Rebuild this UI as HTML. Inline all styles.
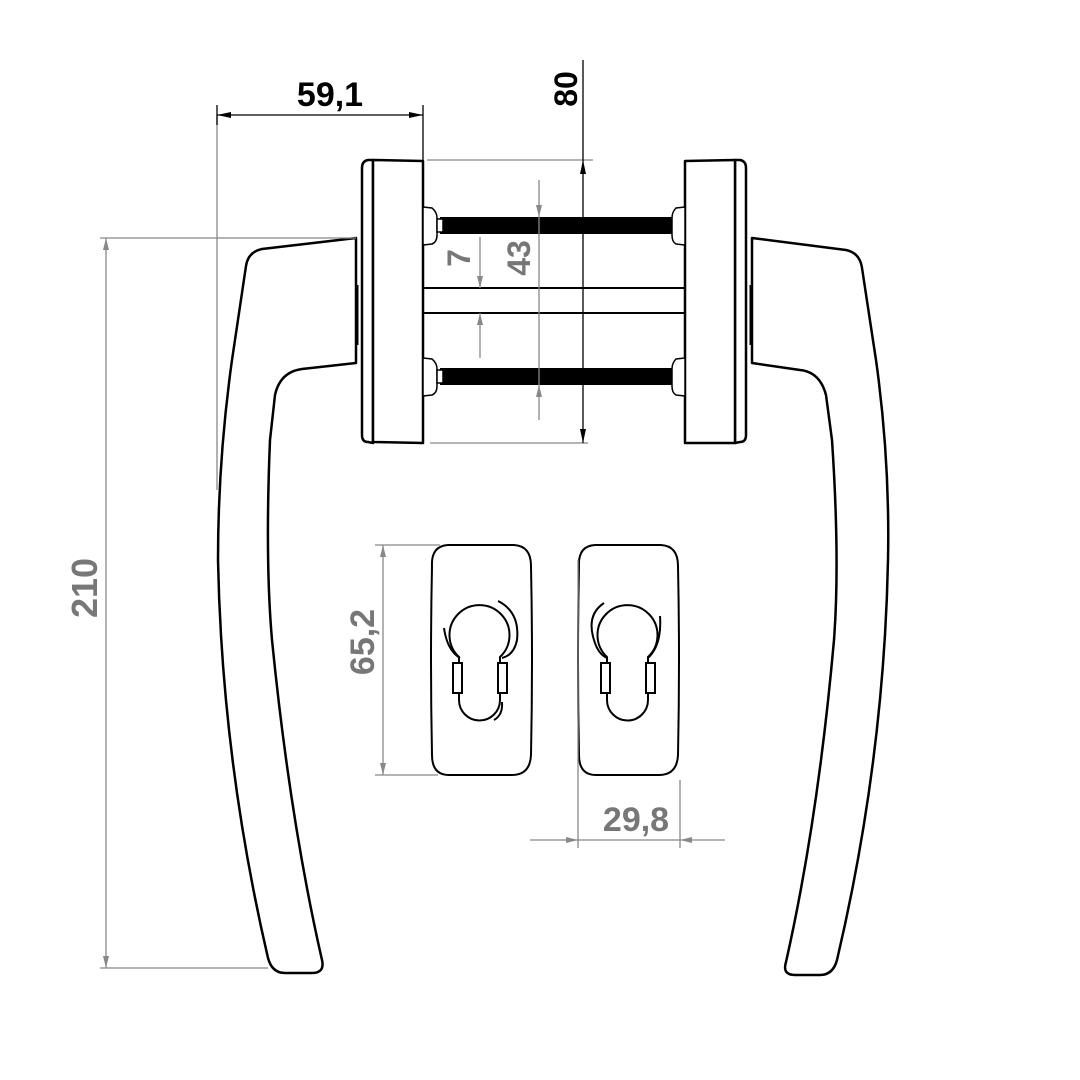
<!DOCTYPE html>
<html><head><style>
html,body{margin:0;padding:0;background:#fff;}
svg{display:block;}
text{font-family:"Liberation Sans","DejaVu Sans",sans-serif;font-weight:bold;}
</style></head><body>
<svg width="1080" height="1080" viewBox="0 0 1080 1080" xmlns="http://www.w3.org/2000/svg">
<defs>
<marker id="ag" viewBox="0 0 12 6" refX="12" refY="3" markerWidth="12" markerHeight="6" markerUnits="userSpaceOnUse" orient="auto"><path d="M0,0 L12,3 L0,6 Z" fill="#888"/></marker>
<marker id="ab" viewBox="0 0 14 6" refX="14" refY="3" markerWidth="14" markerHeight="6" markerUnits="userSpaceOnUse" orient="auto"><path d="M0,0 L14,3 L0,6 Z" fill="#000"/></marker>
</defs>

<!-- handles -->
<g fill="none" stroke="#000" stroke-width="2.5" stroke-linejoin="round">
<path d="M356,238 L262,249 Q248,252 246,266 L232,360 Q218,460 218,560 Q222,760 268,958 Q272,973 285,973 L312,973 Q325,973 322,960 Q290,820 272,640 Q265,560 270,440 L275,395 Q280,372 302,369 L356,363 Z"/>
<path d="M752,238 L846,250 Q860,253 862,268 L876,360 Q890,460 888,560 Q884,760 837,960 Q833,975 820,975 L795,975 Q782,975 786,962 Q818,820 834,640 Q840,560 832,440 L826,395 Q820,372 800,370 L752,363 Z"/>
</g>

<!-- rosettes -->
<g fill="#fff" stroke="#000" stroke-width="2.5" stroke-linejoin="round">
<path d="M373,160 L368,160 Q362,161 362,168 L362,435 Q362,442 368,442 L373,443 Z"/>
<path d="M373,160 L423,161 L423,443 L373,442 Z"/>
<path d="M735,160 L740,160 Q746,161 746,168 L746,435 Q746,442 740,442 L735,443 Z"/>
<path d="M685,161 L735,160 L735,443 L685,443 Z"/>
<path d="M357,285 L357,345" stroke-width="3"/>
<path d="M751,285 L751,345" stroke-width="3"/>
</g>
<!-- spindle -->
<g stroke="#000" stroke-width="2">
<line x1="423" y1="288" x2="685" y2="288"/>
<line x1="423" y1="313" x2="685" y2="313"/>
</g>
<!-- rods -->
<rect x="440" y="217" width="233" height="17" fill="#000"/>
<rect x="440" y="368" width="233" height="17" fill="#000"/>
<g fill="#fff" stroke="#000" stroke-width="1.5">
<path d="M423,207 L432,208 Q437,212 437,218 L437,235 Q437,242 432,244 L423,245 Z"/>
<rect x="437" y="219" width="6" height="13"/>
<path d="M423,358 L432,359 Q437,363 437,369 L437,386 Q437,393 432,395 L423,396 Z"/>
<rect x="437" y="370" width="6" height="13"/>
<path d="M685,207 L676,208 Q672,212 672,218 L672,235 Q672,242 676,244 L685,245 Z"/>
<path d="M685,358 L676,359 Q672,363 672,369 L672,386 Q672,393 676,395 L685,396 Z"/>
</g>

<!-- escutcheons -->
<g fill="none" stroke="#000" stroke-width="2">
<path d="M448,545 L514,545 Q531,546 531,566 Q533,660 531,755 Q530,775 512,775 L449,775 Q432,775 432,755 Q430,660 432,566 Q431,546 448,545 Z"/>
<path d="M595,545 L661,545 Q678,546 678,566 Q680,660 678,755 Q677,775 659,775 L596,775 Q579,775 579,755 Q577,660 579,566 Q578,546 595,545 Z"/>
<!-- keyhole left -->
<path d="M459,657 A30,30 0 1 1 500,657 L500,700 A20,20 0 0 1 459,700 Z"/>
<path d="M444,628 Q447,650 460,658"/>
<path d="M498,601 Q520,612 517,640 Q514,655 502,658"/>
<path d="M502,702 Q503,715 494,720"/>
<rect x="453" y="663" width="9" height="30" fill="#fff"/>
<rect x="498" y="663" width="9" height="30" fill="#fff"/>
<!-- keyhole right -->
<path d="M607,657 A30,30 0 1 1 648,657 L648,700 A20,20 0 0 1 607,700 Z"/>
<path d="M604,603 Q586,615 594,640 Q598,654 607,658"/>
<path d="M660,616 Q662,645 648,658"/>
<rect x="601" y="663" width="9" height="30" fill="#fff"/>
<rect x="646" y="663" width="9" height="30" fill="#fff"/>
</g>

<!-- dimension lines gray -->
<g stroke="#888" stroke-width="1.3" fill="none">
<line x1="100" y1="238" x2="356" y2="238"/>
<line x1="100" y1="968" x2="268" y2="968"/>
<line x1="106" y1="600" x2="106" y2="238" marker-end="url(#ag)"/>
<line x1="106" y1="600" x2="106" y2="968" marker-end="url(#ag)"/>
<line x1="217" y1="115" x2="217" y2="490"/>
<line x1="375" y1="545" x2="440" y2="545"/>
<line x1="375" y1="775" x2="438" y2="775"/>
<line x1="383" y1="660" x2="383" y2="545" marker-end="url(#ag)"/>
<line x1="383" y1="660" x2="383" y2="775" marker-end="url(#ag)"/>
<line x1="578" y1="560" x2="578" y2="848"/>
<line x1="680" y1="780" x2="680" y2="848"/>
<line x1="530" y1="840" x2="578" y2="840" marker-end="url(#ag)"/>
<line x1="725" y1="840" x2="680" y2="840" marker-end="url(#ag)"/>
<line x1="578" y1="840" x2="680" y2="840"/>
<line x1="427" y1="160" x2="593" y2="160"/>
<line x1="430" y1="443" x2="588" y2="443"/>
<line x1="539" y1="180" x2="539" y2="217" marker-end="url(#ag)"/>
<line x1="539" y1="420" x2="539" y2="385" marker-end="url(#ag)"/>
<line x1="539" y1="217" x2="539" y2="385"/>
<line x1="480" y1="237" x2="480" y2="288" marker-end="url(#ag)"/>
<line x1="480" y1="358" x2="480" y2="313" marker-end="url(#ag)"/>
</g>
<!-- black dims -->
<g stroke="#000" stroke-width="1.3" fill="none">
<line x1="423" y1="105" x2="423" y2="160"/>
<line x1="217" y1="105" x2="217" y2="125"/>
<line x1="320" y1="115" x2="217" y2="115" marker-end="url(#ab)"/>
<line x1="320" y1="115" x2="423" y2="115" marker-end="url(#ab)"/>
<line x1="583" y1="300" x2="583" y2="160" marker-end="url(#ab)"/>
<line x1="583" y1="300" x2="583" y2="443" marker-end="url(#ab)"/>
<line x1="583" y1="60" x2="583" y2="160"/>
</g>

<!-- labels -->
<text x="330" y="106" font-size="34" text-anchor="middle" fill="#000">59,1</text>
<text transform="translate(577,89) rotate(-90)" font-size="32" text-anchor="middle" fill="#000">80</text>
<text transform="translate(530,258) rotate(-90)" font-size="32" text-anchor="middle" fill="#777">43</text>
<text transform="translate(470,258) rotate(-90)" font-size="32" text-anchor="middle" fill="#777">7</text>
<text transform="translate(97,588) rotate(-90)" font-size="36" text-anchor="middle" fill="#777">210</text>
<text transform="translate(374,642) rotate(-90)" font-size="34" text-anchor="middle" fill="#777">65,2</text>
<text x="636" y="831" font-size="34" text-anchor="middle" fill="#777">29,8</text>
</svg>
</body></html>
